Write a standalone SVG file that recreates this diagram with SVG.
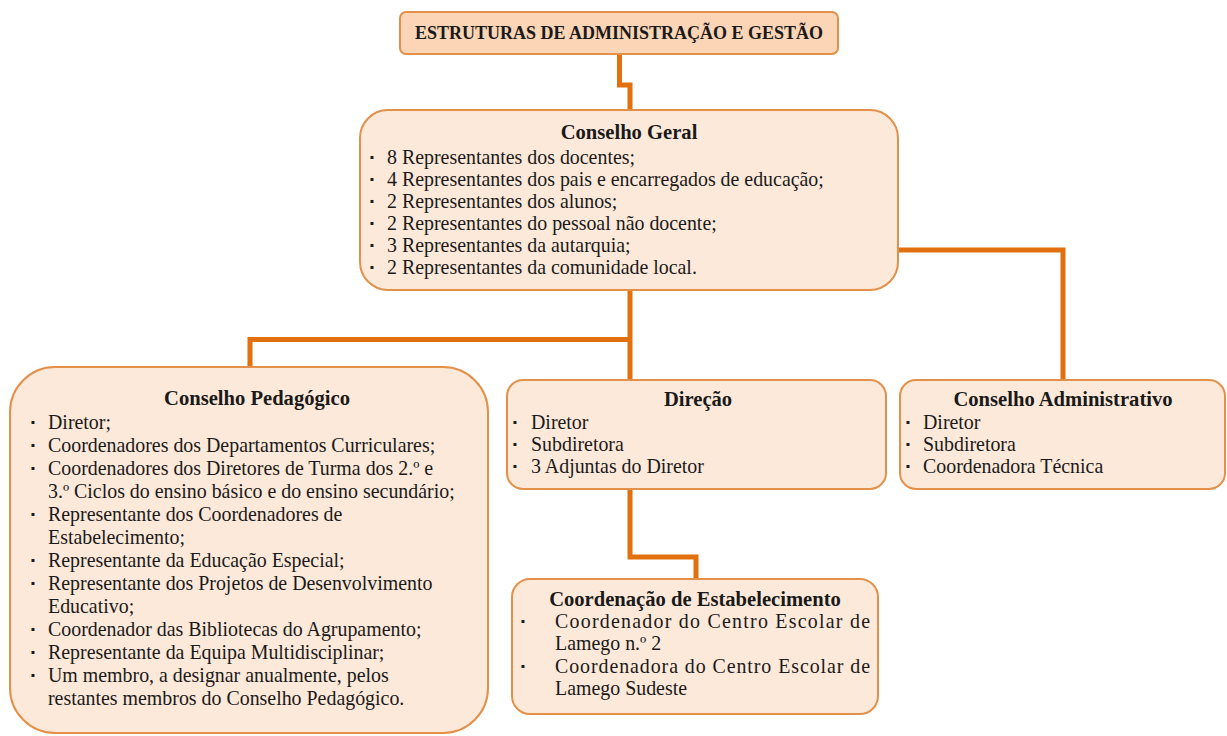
<svg xmlns="http://www.w3.org/2000/svg" width="1227" height="736" viewBox="0 0 1227 736">
<style>
.box{fill:#fde9d9;stroke:#e3914a;stroke-width:2}
.top{fill:#fbd5b5;stroke:#e3914a;stroke-width:2}
.conn{fill:none;stroke:#e2700f;stroke-width:5;stroke-linejoin:miter}
text{font-family:"Liberation Serif","DejaVu Serif",serif;font-size:19.9px;fill:#1a1a1a}
.t{font-weight:bold;text-anchor:middle;font-size:20.6px}
.d{font-weight:bold;font-family:"Liberation Sans",sans-serif;font-size:21px}
</style>
<rect width="1227" height="736" fill="#ffffff"/>
<g id="connectors">
<polyline class="conn" points="619.5,54 619.5,85 630,85 630,110"/>
<polyline class="conn" points="630,290 630,380"/>
<polyline class="conn" points="250,367 250,339.5 630,339.5"/>
<polyline class="conn" points="898,250 1063,250 1063,380"/>
<polyline class="conn" points="630,489 630,557 696,557 696,579"/>
</g>
<g id="estruturas">
<rect class="top" x="400" y="12" width="438" height="42" rx="6"/>
<text class="t" x="619" y="39" style="font-size:18px">ESTRUTURAS DE ADMINISTRAÇÃO E GESTÃO</text>
</g>
<g id="conselho-geral">
<rect class="box" x="360" y="110" width="538" height="180" rx="28"/>
<text class="t" x="629" y="139">Conselho Geral</text>
<text class="d" x="369" y="164">·</text><text x="387" y="164">8 Representantes dos docentes;</text>
<text class="d" x="369" y="186">·</text><text x="387" y="186">4 Representantes dos pais e encarregados de educação;</text>
<text class="d" x="369" y="208">·</text><text x="387" y="208">2 Representantes dos alunos;</text>
<text class="d" x="369" y="230">·</text><text x="387" y="230">2 Representantes do pessoal não docente;</text>
<text class="d" x="369" y="252">·</text><text x="387" y="252">3 Representantes da autarquia;</text>
<text class="d" x="369" y="274">·</text><text x="387" y="274">2 Representantes da comunidade local.</text>
</g>
<g id="conselho-pedagogico">
<rect class="box" x="10" y="367" width="478" height="366" rx="45"/>
<text class="t" x="257" y="405">Conselho Pedagógico</text>
<text class="d" x="30" y="429">·</text><text x="48" y="429">Diretor;</text>
<text class="d" x="30" y="452">·</text><text x="48" y="452">Coordenadores dos Departamentos Curriculares;</text>
<text class="d" x="30" y="475">·</text><text x="48" y="475">Coordenadores dos Diretores de Turma dos 2.º e</text>
<text x="48" y="498">3.º Ciclos do ensino básico e do ensino secundário;</text>
<text class="d" x="30" y="521">·</text><text x="48" y="521">Representante dos Coordenadores de</text>
<text x="48" y="544">Estabelecimento;</text>
<text class="d" x="30" y="567">·</text><text x="48" y="567">Representante da Educação Especial;</text>
<text class="d" x="30" y="590">·</text><text x="48" y="590">Representante dos Projetos  de Desenvolvimento</text>
<text x="48" y="613">Educativo;</text>
<text class="d" x="30" y="636">·</text><text x="48" y="636">Coordenador das Bibliotecas do Agrupamento;</text>
<text class="d" x="30" y="659">·</text><text x="48" y="659">Representante da Equipa Multidisciplinar;</text>
<text class="d" x="30" y="682">·</text><text x="48" y="682">Um membro, a designar anualmente, pelos</text>
<text x="48" y="705">restantes membros do Conselho Pedagógico.</text>
</g>
<g id="direcao">
<rect class="box" x="507" y="380" width="379" height="109" rx="16"/>
<text class="t" x="698" y="406">Direção</text>
<text class="d" x="512" y="429">·</text><text x="531" y="429">Diretor</text>
<text class="d" x="512" y="451">·</text><text x="531" y="451">Subdiretora</text>
<text class="d" x="512" y="473">·</text><text x="531" y="473">3 Adjuntas do Diretor</text>
</g>
<g id="conselho-administrativo">
<rect class="box" x="900" y="380" width="325" height="109" rx="16"/>
<text class="t" x="1063" y="406">Conselho Administrativo</text>
<text class="d" x="905" y="429">·</text><text x="923" y="429">Diretor</text>
<text class="d" x="905" y="451">·</text><text x="923" y="451">Subdiretora</text>
<text class="d" x="905" y="473">·</text><text x="923" y="473">Coordenadora Técnica</text>
</g>
<g id="coordenacao">
<rect class="box" x="512" y="579" width="366" height="135" rx="18"/>
<text class="t" x="695" y="606">Coordenação de Estabelecimento</text>
<text class="d" x="520" y="628">·</text><text x="555" y="628" textLength="315" lengthAdjust="spacing">Coordenador do Centro Escolar de</text>
<text x="555" y="650">Lamego n.º 2</text>
<text class="d" x="520" y="673">·</text><text x="555" y="673" textLength="315" lengthAdjust="spacing">Coordenadora do Centro Escolar de</text>
<text x="555" y="695">Lamego Sudeste</text>
</g>
</svg>
